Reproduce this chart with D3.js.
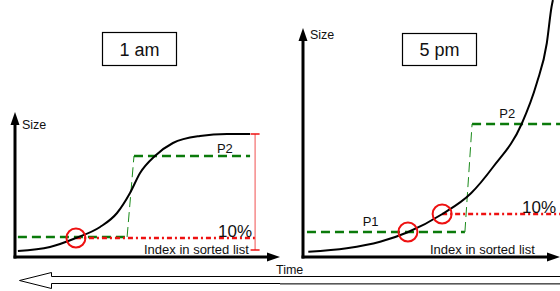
<!DOCTYPE html>
<html>
<head>
<meta charset="utf-8">
<script src="https://cdnjs.cloudflare.com/ajax/libs/d3/7.8.5/d3.min.js"></script>
<style>
  body { margin: 0; background: #fff; }
  svg { display: block; font-family: "Liberation Sans", Arial, sans-serif; }
</style>
</head>
<body>
<div id="chart-area"></div>
<script>
// Data (index in sorted list 0-100, size 0-100)
var panelTitles = ["1 am", "5 pm"];
var amCurve = [[1.1, 2.4], [13.2, 4], [23, 7.6], [32.1, 12], [38.5, 17.6], [43.4, 25.6],
               [47.2, 33.6], [52.8, 40.4], [59.6, 45.6], [69.8, 48.4], [80, 49.2], [88.7, 49.2]];
var pmCurve = [[2, 2.1], [16.5, 3.5], [29.1, 6.1], [39.5, 9.9], [52.6, 17.2], [63.4, 25.5],
               [71.8, 36.1], [82.5, 53.2], [88.2, 69.5], [92, 85.5], [93.8, 100.1], [94.3, 102.8]];
var amSteps = [[1.1, 8], [42.3, 8], [44.9, 40.4], [88.7, 40.4]];
var pmSteps = [[1.5, 10], [61.1, 10], [63.8, 53.2], [97, 53.2]];
var amCircles = [[23, 7.6]];
var pmCircles = [[39.6, 10], [52.5, 17.2]];
var amTenPct = [[23, 7.6], [90.6, 7.6]];
var pmTenPct = [[52.5, 17.2], [97, 17.2]];
var amRange = [90.6, 2.8, 49.2];   // x, low, high
var pmRange = [98.9, 2.8, 99.2];
var stepLabels = [["P2", 76.2, 41.6], ["P1", 22.5, 12.4], ["P2", 74.1, 55.6]];

var width = 560, height = 291;

var svg = d3.select("#chart-area").append("svg")
    .attr("width", width)
    .attr("height", height);

// Scales: shared size scale, one index scale per panel
var y_scale = d3.scaleLinear().domain([0, 100]).range([257, 7]);
var x_am = d3.scaleLinear().domain([0, 100]).range([15, 280]);
var x_pm = d3.scaleLinear().domain([0, 100]).range([303, 568]);

var panels = [
    { x: x_am, title: panelTitles[0], curve: amCurve, steps: amSteps, circles: amCircles,
      ten: amTenPct, range: amRange, labels: [stepLabels[0]], axisTop: 112, axisEnd: 280,
      box: [102.5, 32.5, 74, 33], tenX: 218, tenY: 237, idxX: 144, sizeY: 129 },
    { x: x_pm, title: panelTitles[1], curve: pmCurve, steps: pmSteps, circles: pmCircles,
      ten: pmTenPct, range: pmRange, labels: [stepLabels[1], stepLabels[2]], axisTop: 28, axisEnd: 560,
      box: [402.5, 33.5, 74, 32], tenX: 522, tenY: 213, idxX: 430, sizeY: 39 }
];

panels.forEach(function(p) {
    var g = svg.append("g");
    var x0 = p.x(0), y0 = y_scale(0);

    // Title box
    g.append("rect")
        .attr("x", p.box[0]).attr("y", p.box[1])
        .attr("width", p.box[2]).attr("height", p.box[3])
        .attr("fill", "#fff").attr("stroke", "#000").attr("stroke-width", 1.2);
    g.append("text")
        .attr("x", p.box[0] + p.box[2] / 2)
        .attr("y", 56)
        .attr("text-anchor", "middle")
        .attr("font-size", "18px")
        .attr("fill", "#111")
        .text(p.title);

    var line = d3.line()
        .x(function(d) { return p.x(d[0]); })
        .y(function(d) { return y_scale(d[1]); });

    // Green step (dashed)
    g.append("path")
        .attr("d", line(p.steps.slice(0, 2)))
        .attr("fill", "none").attr("stroke", "#0a7a0a")
        .attr("stroke-width", 2.5).attr("stroke-dasharray", "9,5");
    g.append("path")
        .attr("d", line(p.steps.slice(1, 3)))
        .attr("fill", "none").attr("stroke", "#1a8a1a")
        .attr("stroke-width", 1).attr("stroke-dasharray", "10,5");
    g.append("path")
        .attr("d", line(p.steps.slice(2, 4)))
        .attr("fill", "none").attr("stroke", "#0a7a0a")
        .attr("stroke-width", 2.5).attr("stroke-dasharray", "9,5");

    // 10% dash-dot line
    g.append("path")
        .attr("d", line(p.ten))
        .attr("fill", "none").attr("stroke", "#ee1111")
        .attr("stroke-width", 2.5).attr("stroke-dasharray", "5,3,2,3");

    // Range line
    var rx = p.x(p.range[0]);
    g.append("line")
        .attr("x1", rx).attr("x2", rx)
        .attr("y1", y_scale(p.range[1])).attr("y2", y_scale(p.range[2]))
        .attr("stroke", "#f05050").attr("stroke-width", 1);
    [p.range[1], p.range[2]].forEach(function(v) {
        g.append("line")
            .attr("x1", rx - 4.5).attr("x2", rx + 4.5)
            .attr("y1", y_scale(v)).attr("y2", y_scale(v))
            .attr("stroke", "#ee1111").attr("stroke-width", 1.5);
    });

    // Curve
    g.append("path")
        .attr("d", line.curve(d3.curveMonotoneX)(p.curve))
        .attr("fill", "none").attr("stroke", "#000").attr("stroke-width", 2);

    // Circles
    g.selectAll(".mark").data(p.circles).enter().append("circle")
        .attr("cx", function(d) { return p.x(d[0]); })
        .attr("cy", function(d) { return y_scale(d[1]); })
        .attr("r", 9.5)
        .attr("fill", "none").attr("stroke", "#ee1111").attr("stroke-width", 2);

    // Axes
    g.append("line")
        .attr("x1", x0).attr("x2", x0).attr("y1", y0 + 1.5).attr("y2", p.axisTop + 10)
        .attr("stroke", "#000").attr("stroke-width", 3);
    g.append("path")
        .attr("d", "M" + x0 + "," + p.axisTop + "L" + (x0 - 4.5) + "," + (p.axisTop + 13) +
            "L" + (x0 + 4.5) + "," + (p.axisTop + 13) + "Z")
        .attr("fill", "#000");
    g.append("line")
        .attr("x1", x0 - 1.5).attr("x2", p.axisEnd - 10).attr("y1", y0).attr("y2", y0)
        .attr("stroke", "#000").attr("stroke-width", 3);
    g.append("path")
        .attr("d", "M" + p.axisEnd + "," + y0 + "L" + (p.axisEnd - 13) + "," + (y0 - 4.5) +
            "L" + (p.axisEnd - 13) + "," + (y0 + 4.5) + "Z")
        .attr("fill", "#000");

    // Labels
    g.append("text")
        .attr("x", x0 + 7).attr("y", p.sizeY)
        .attr("font-size", "12.5px").attr("fill", "#111")
        .text("Size");
    g.append("text")
        .attr("x", p.idxX).attr("y", 254)
        .attr("font-size", "13px").attr("fill", "#111")
        .text("Index in sorted list");
    g.append("text")
        .attr("x", p.tenX).attr("y", p.tenY)
        .attr("font-size", "17px").attr("fill", "#111")
        .text("10%");
    g.selectAll(".plabel").data(p.labels).enter().append("text")
        .attr("x", function(d) { return p.x(d[1]); })
        .attr("y", function(d) { return y_scale(d[2]); })
        .attr("font-size", "13px").attr("fill", "#111")
        .text(function(d) { return d[0]; });
});

// Time arrow (hollow, pointing left)
svg.append("path")
    .attr("d", "M570,276.5 L51.5,276.5 L51.5,272.5 L19.5,280.5 L51.5,288.5 L51.5,283.5 L570,283.5")
    .attr("fill", "#fff").attr("stroke", "#000").attr("stroke-width", 1);
svg.append("line")
    .attr("x1", 280).attr("x2", 570).attr("y1", 284).attr("y2", 284)
    .attr("stroke", "#777").attr("stroke-width", 1.5);
svg.append("text")
    .attr("x", 276).attr("y", 273.5)
    .attr("font-size", "12.5px").attr("fill", "#111")
    .text("Time");
</script>
</body>
</html>
